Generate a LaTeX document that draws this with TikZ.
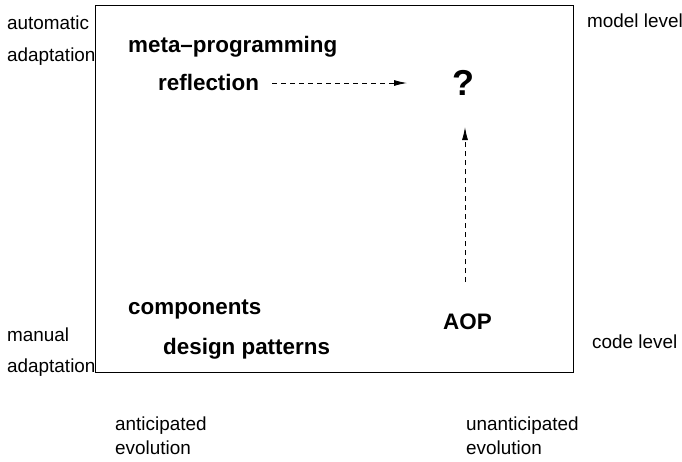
\documentclass[tikz,border=0pt]{standalone}
\usepackage{fontspec}
\setmainfont{Liberation Sans}
\usetikzlibrary{arrows.meta}
\begin{document}
\begin{tikzpicture}[x=1pt,y=-1pt,
  lbl/.style={anchor=west,inner sep=0pt,font=\fontsize{18.9}{22}\selectfont},
  blbl/.style={anchor=west,inner sep=0pt,font=\fontsize{22.4}{26}\selectfont\bfseries},
  dasharrow/.style={line width=0.9pt,dash pattern=on 5pt off 4pt,-{Latex[length=13pt,width=6pt]}}]
\useasboundingbox (0,0) rectangle (682,461);
\draw[line width=0.9pt] (95,5) rectangle (573,372);
\node[lbl] (auto1) at (7,23) {automatic};
\node[lbl] (auto2) at (7,57) {adaptation};
\node[lbl] (man1) at (7,335) {manual};
\node[lbl] (man2) at (7,368) {adaptation};
\node[lbl] (model) at (587,21) {model level};
\node[lbl] (code) at (592,342) {code level};
\node[lbl] (ant1) at (115,426) {anticipated};
\node[lbl] (ant2) at (115,448) {evolution};
\node[lbl] (unant1) at (466,426) {unanticipated};
\node[lbl] (unant2) at (466,448) {evolution};
\node[blbl] (meta) at (128,47) {meta\textendash programming};
\node[blbl] (refl) at (158,82) {reflection};
\node[blbl] (comp) at (128,310) {components};
\node[blbl] (dp) at (163,349) {design patterns};
\node[blbl] (aop) at (443,322) {AOP};
\node[inner sep=0pt,font=\fontsize{36}{40}\selectfont\bfseries] (q) at (463,83) {?};
\coordinate (rs) at (272,83);
\coordinate (re) at (407,83);
\coordinate (vs) at (465,282);
\coordinate (ve) at (465,127);
\draw[dasharrow] (rs) -- (re);
\draw[dasharrow] (vs) -- (ve);
\end{tikzpicture}
\end{document}
